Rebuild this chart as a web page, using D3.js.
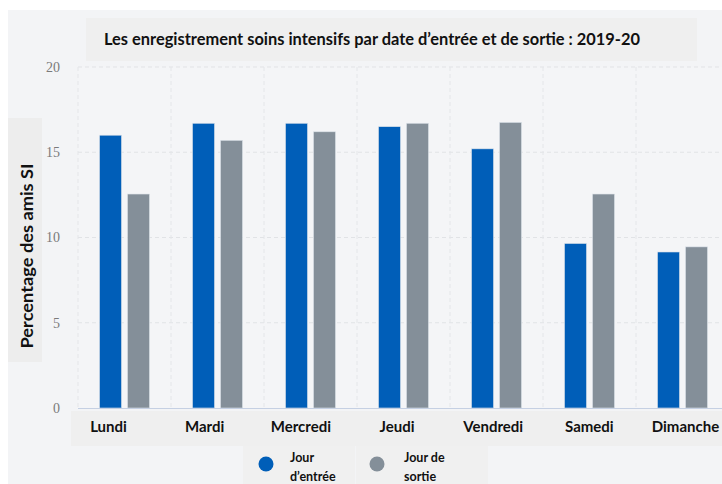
<!DOCTYPE html>
<html><head><meta charset="utf-8">
<script src="https://cdn.jsdelivr.net/npm/d3@7"></script>
<style>html,body{margin:0;padding:0;background:#fff;}svg{display:block;}</style>
</head><body>
<svg id="chart" width="722" height="484"></svg>
<script>
const categories = ["Lundi","Mardi","Mercredi","Jeudi","Vendredi","Samedi","Dimanche"];
const seriesNames = ["Jour d’entrée","Jour de sortie"];
const entree = [16.0,16.7,16.7,16.5,15.2,9.65,9.15];
const sortie = [12.55,15.7,16.2,16.7,16.75,12.55,9.45];
const yTicks = [0,5,10,15,20];
const title = "Les enregistrement soins intensifs par date d’entrée et de sortie : 2019-20";
const yLabel = "Percentage des amis SI";
const colors = ["#005EB8","#848F99"];

const svg = d3.select("#chart");
const font = "Lato, 'Open Sans', sans-serif";
// backgrounds
svg.append("rect").attr("x",8).attr("y",10).attr("width",714).attr("height",474).attr("fill","#f3f4f6");
svg.append("rect").attr("x",86).attr("y",18).attr("width",611).attr("height",43).attr("fill","#efefef");
svg.append("rect").attr("x",8).attr("y",118).attr("width",34).attr("height",244).attr("fill","#ededed");
svg.append("rect").attr("x",71).attr("y",411).attr("width",651).attr("height",35).attr("fill","#efefef");
svg.append("rect").attr("x",243).attr("y",446).attr("width",112).attr("height",38).attr("fill","#f0f0f0");
svg.append("rect").attr("x",356).attr("y",446).attr("width",132).attr("height",38).attr("fill","#f0f0f0");

const x0 = 78, step = 93;
const x = d3.scaleBand().domain(categories).range([x0, x0 + step*categories.length]).padding(0);
const xs = d3.scaleBand().domain([0,1]).range([-25,25]).paddingInner(0.214).paddingOuter(0);
const y = d3.scaleLinear().domain([0,20]).range([408,67]);
const xl = d3.scalePoint().domain(categories).range([108,685]);

svg.append("rect").attr("x",x0).attr("y",y(20)).attr("width",722-x0).attr("height",y(0)-y(20)).attr("fill","#f4f5f7");

// grid
const g = svg.append("g");
g.selectAll(".hg").data(yTicks.filter(d=>d>0)).join("line")
  .attr("x1",x0).attr("x2",722).attr("y1",d=>y(d)).attr("y2",d=>y(d))
  .attr("stroke","#e1e3e6").attr("stroke-width",1).attr("stroke-dasharray","4,3");
g.selectAll(".vg").data(categories).join("line")
  .attr("x1",d=>x(d)).attr("x2",d=>x(d)).attr("y1",y(20)).attr("y2",y(0))
  .attr("stroke","#e4e6e9").attr("stroke-width",1).attr("stroke-dasharray","4,3");

// bars
const data = categories.map((c,i)=>({c, vals:[entree[i], sortie[i]]}));
const grp = svg.selectAll(".grp").data(data).join("g")
  .attr("transform",d=>`translate(${x(d.c)+x.bandwidth()/2},0)`);
grp.selectAll("rect").data(d=>d.vals.map((v,k)=>({v,k}))).join("rect")
  .attr("x",d=>xs(d.k)).attr("width",xs.bandwidth())
  .attr("y",d=>y(d.v)).attr("height",d=>y(0)-y(d.v))
  .attr("fill",d=>colors[d.k]).attr("stroke","#dde3ea").attr("stroke-width",0.6);

// axis line
svg.append("line").attr("x1",x0).attr("x2",722).attr("y1",y(0)+0.5).attr("y2",y(0)+0.5).attr("stroke","#c5d0e3").attr("stroke-width",1.2);

// y ticks
const yAxis = d3.axisLeft(y).tickValues(yTicks).tickSize(0).tickPadding(0);
const ya = svg.append("g").attr("transform","translate(60,0)").attr("font-family","'Liberation Serif', 'DejaVu Serif', serif").call(yAxis);
ya.select(".domain").remove();
ya.selectAll("text").attr("font-family","'Liberation Serif', 'DejaVu Serif', serif").attr("font-size",14).attr("fill","#7a7a7a");

// x labels
const xAxis = d3.axisBottom(xl).tickSize(0).tickPadding(0);
const xa = svg.append("g").attr("transform","translate(0,421)").call(xAxis);
xa.select(".domain").remove();
xa.selectAll("text").attr("font-family",font).attr("font-weight","bold").attr("font-size",15).attr("fill","#111");

// title
svg.append("text").attr("x",104).attr("y",45).attr("font-family",font).attr("font-weight","bold")
  .attr("font-size",16.3).attr("textLength",536).attr("lengthAdjust","spacingAndGlyphs").attr("fill","#111").text(title);

// y label
svg.append("text").attr("transform","translate(33,256) rotate(-90)").attr("text-anchor","middle")
  .attr("font-family",font).attr("font-weight","bold").attr("font-size",17).attr("textLength",185).attr("lengthAdjust","spacingAndGlyphs").attr("fill","#111").text(yLabel);

// legend
const legendLines = [["Jour","d’entrée"],["Jour de","sortie"]];
const lx = [266, 377];
const leg = svg.selectAll(".leg").data(seriesNames).join("g").attr("transform",(d,i)=>`translate(${lx[i]},464)`);
leg.append("circle").attr("r",7.5).attr("fill",(d,i)=>colors[i]);
leg.each(function(d,i){
  const t = d3.select(this).append("text").attr("font-family",font).attr("font-weight","bold")
    .attr("font-size",12.5).attr("fill","#111");
  legendLines[i].forEach((l,j)=>t.append("tspan").attr("x",i===0?24:27).attr("y",j===0?-2:17).text(l));
});
</script>
</body></html>
